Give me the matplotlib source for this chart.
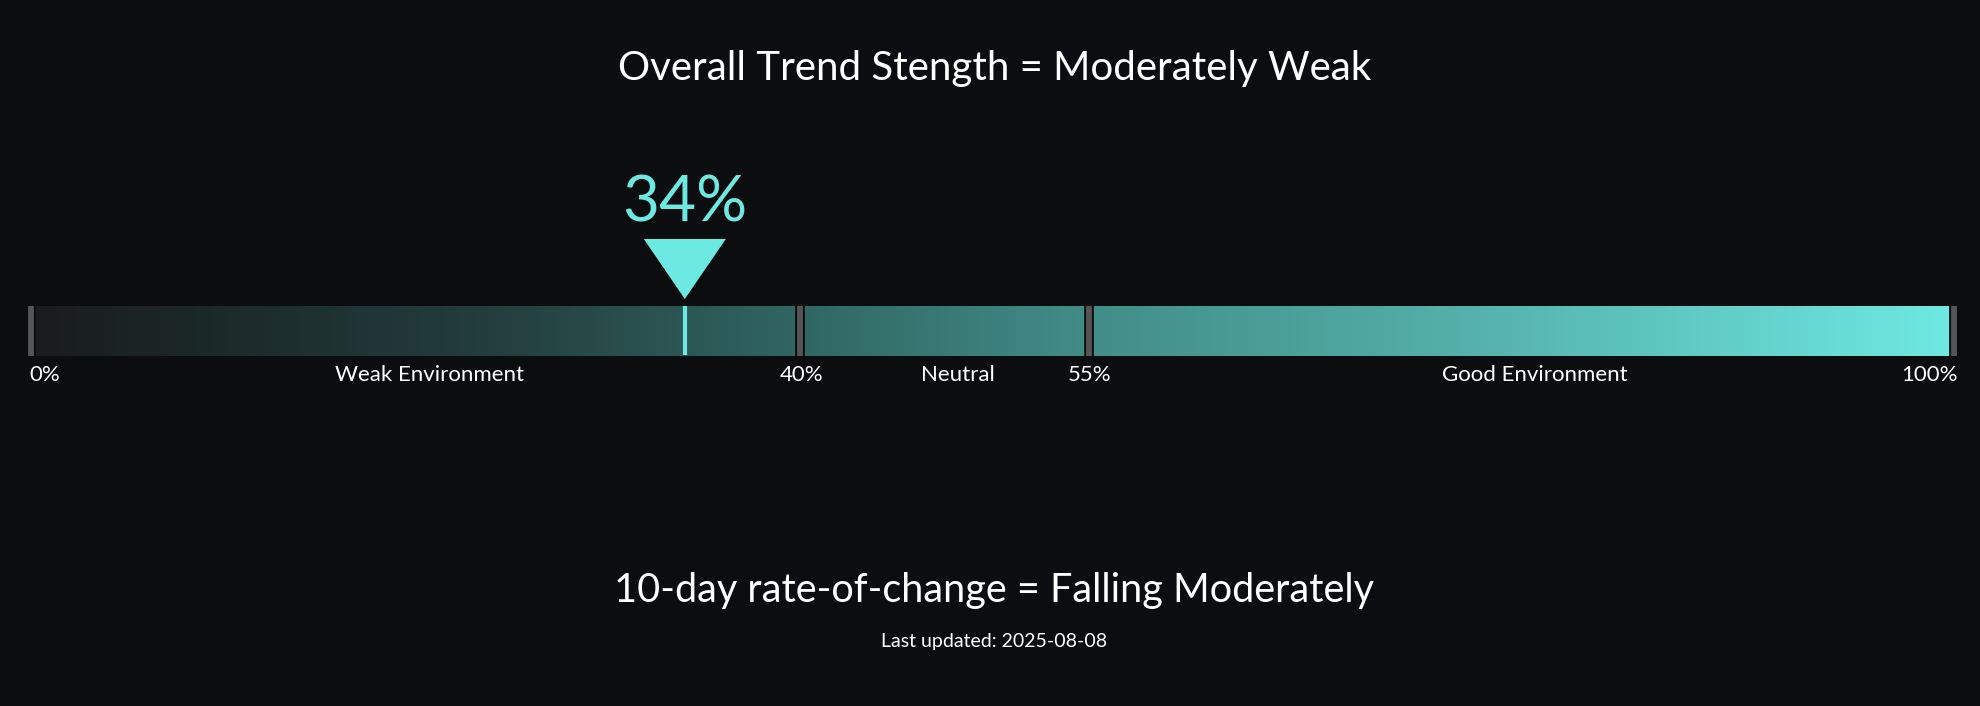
import numpy as np
import matplotlib.pyplot as plt
from matplotlib.colors import LinearSegmentedColormap
from matplotlib.patches import Polygon

# gauge values
value = 34
bounds = [0, 40, 55, 100]
bound_labels = ['0%', '40%', '55%', '100%']
zones = ['Weak Environment', 'Neutral', 'Good Environment']
title_top = 'Overall Trend Stength = Moderately Weak'
title_bottom = '10-day rate-of-change = Falling Moderately'
updated = 'Last updated: 2025-08-08'

bg = '#0c0d0f'
cyan = '#6ce9e1'
font = 'Lato'

W, H = 1981, 706
fig = plt.figure(figsize=(W / 100, H / 100), dpi=100, facecolor=bg)
ax = fig.add_axes([0, 0, 1, 1])
ax.set_facecolor(bg)
# x in gauge percent, y in pixels from the top
px = 1923 / 100.0
ax.set_xlim(-31 / px, (W - 31) / px)
ax.set_ylim(H, 0)
ax.axis('off')

bar_top, bar_bot = 306, 356

cmap = LinearSegmentedColormap.from_list('gauge', [
    (0.0, '#1a1c1e'), (0.1, '#1c2a2a'), (0.25, '#24403f'),
    (0.4, '#306663'), (0.55, '#428d88'), (0.75, '#55b1ab'),
    (1.0, '#6de9e1')])
grad = np.linspace(0, 1, 1024).reshape(1, -1)
ax.imshow(grad, cmap=cmap, aspect='auto', extent=[0, 100, bar_bot, bar_top],
          interpolation='bilinear', zorder=1)

# zone dividers
for b in bounds:
    ax.plot([b, b], [bar_top, bar_bot], color='#0c0d0f', lw=7, solid_capstyle='butt', zorder=2)
    ax.plot([b, b], [bar_top, bar_bot], color='#555555', lw=4.2, solid_capstyle='butt', zorder=3)

# marker
ax.plot([value, value], [bar_top, bar_bot - 1], color=cyan, lw=3, solid_capstyle='butt', zorder=4)
tri_w = 41 / px
ax.add_patch(Polygon([[value - tri_w, 239], [value + tri_w, 239], [value, 299]],
                     closed=True, facecolor=cyan, edgecolor='none', zorder=4))
ax.text(value, 221, f'{value}%', color=cyan, fontsize=46, family=font,
        ha='center', va='baseline', zorder=5)

# bound labels
for b, lab in zip(bounds, bound_labels):
    ha = 'center'
    if b == bounds[0]:
        ha = 'left'
    elif b == bounds[-1]:
        ha = 'right'
    xb = b - 2 / px if ha == 'left' else (b + 4 / px if ha == 'right' else b + 1 / px)
    ax.text(xb, 381, lab, color='white', fontsize=16, family=font, ha=ha, va='baseline')

# zone labels
for i, z in enumerate(zones):
    mid = (bounds[i] + bounds[i + 1]) / 2 + 0.7
    ax.text(mid, 381, z, color='white', fontsize=16, family=font, ha='center', va='baseline')

# titles
ax.text(50.1, 80, title_top, color='white', fontsize=29, family=font, ha='center', va='baseline')
ax.text(50.1, 602, title_bottom, color='white', fontsize=28.5, family=font, ha='center', va='baseline')
ax.text(50.1, 647, updated, color='white', fontsize=14, family=font, ha='center', va='baseline')

fig.savefig('out.png', dpi=100, facecolor=bg)
